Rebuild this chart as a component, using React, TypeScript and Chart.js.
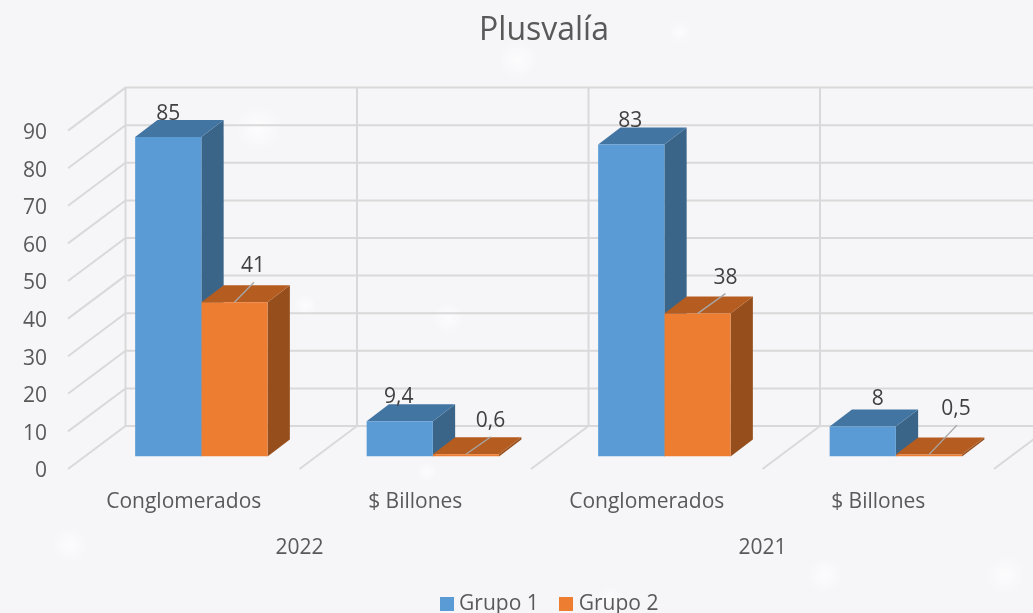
import React, { useEffect, useRef } from "react";
import { Chart, registerables } from "chart.js";

Chart.register(...registerables);

const categories = ["Conglomerados", "$ Billones", "Conglomerados", "$ Billones"];
const years = ["2022", "2021"];
const grupo1 = [85, 9.4, 83, 8];
const grupo2 = [41, 0.6, 38, 0.5];
const seriesNames = ["Grupo 1", "Grupo 2"];

const FONT = "'Open Sans', sans-serif";
const GRID = "#d9d9d9";
const front = ["#5b9bd5", "#ed7d31"];
const topFace = ["#4375a3", "#b55d20"];
const sideFace = ["#3a6589", "#964f1c"];

// 3D projection of the chart (pixel offsets from the front plane of the bars)
const BAR_DX = 22.3;
const BAR_DY = 17;
const WALL_DX = 39.9;
const WALL_DY = 30.5;
const EDGE_DX = 17.6;
const EDGE_DY = 12.5;

// Label offsets from the bar's top centre: [dx, dy, leader end dx, leader end dy]
const labelNudges = [
  [[0, -23], [-1, -24], [-1, -23.4], [15, -27]],
  [[18.5, -36, 19.5, -20], [24.6, -33, 25, -17.5], [28, -36, 28, -20], [27, -46, 28, -29.5]],
];

const swatch = (color: string) => {
  const c = document.createElement("canvas");
  c.width = 14;
  c.height = 14;
  const g = c.getContext("2d")!;
  g.fillStyle = color;
  g.fillRect(0, 0, 14, 14);
  return c;
};

const poly = (ctx: CanvasRenderingContext2D, color: string, pts: number[][]) => {
  ctx.fillStyle = color;
  ctx.beginPath();
  pts.forEach(([x, y], i) => (i ? ctx.lineTo(x, y) : ctx.moveTo(x, y)));
  ctx.closePath();
  ctx.fill();
};

const box3d = {
  id: "box3d",
  afterLayout(chart: any) {
    chart.titleBlock.left += 76.4;
    chart.legend.left += 91.4;
  },
  beforeDatasetsDraw(chart: any) {
    const { ctx } = chart;
    const y = chart.scales.y;
    const x = chart.scales.x;
    const step = x.width / categories.length;
    const y0 = y.getPixelForValue(0);
    ctx.save();
    ctx.strokeStyle = GRID;
    ctx.lineWidth = 2;
    ctx.beginPath();
    y.ticks.forEach((t: any) => {
      const p = y.getPixelForValue(t.value);
      ctx.moveTo(x.left - EDGE_DX, p + EDGE_DY);
      ctx.lineTo(x.left + WALL_DX, p - WALL_DY);
      ctx.lineTo(chart.width + 30, p - WALL_DY);
    });
    const yTop = y.getPixelForValue(y.max) - WALL_DY;
    for (let i = 0; i <= categories.length; i++) {
      const b = x.left + i * step;
      ctx.moveTo(b + WALL_DX, yTop);
      ctx.lineTo(b + WALL_DX, y0 - WALL_DY);
      ctx.moveTo(b + WALL_DX, y0 - WALL_DY);
      ctx.lineTo(b - EDGE_DX, y0 + EDGE_DY);
    }
    ctx.stroke();

    categories.forEach((_, i) => {
      [0, 1].forEach((d) => {
        const el = chart.getDatasetMeta(d).data[i];
        const { x: cx, y: top, base, width } = el.getProps(["x", "y", "base", "width"], true);
        const l = cx - width / 2;
        const r = cx + width / 2;
        poly(ctx, sideFace[d], [[r, top], [r + BAR_DX, top - BAR_DY], [r + BAR_DX, base - BAR_DY], [r, base]]);
        poly(ctx, topFace[d], [[l, top], [l + BAR_DX, top - BAR_DY], [r + BAR_DX, top - BAR_DY], [r, top]]);
      });
    });
    ctx.restore();
  },
  afterDatasetsDraw(chart: any) {
    const { ctx } = chart;
    ctx.save();
    ctx.font = `21px ${FONT}`;
    ctx.textAlign = "center";
    ctx.textBaseline = "middle";
    [grupo1, grupo2].forEach((values, d) => {
      values.forEach((v, i) => {
        const el = chart.getDatasetMeta(d).data[i];
        const { x: cx, y: top } = el.getProps(["x", "y"], true);
        const n = labelNudges[d][i];
        if (n.length > 2) {
          ctx.strokeStyle = "#a6a6a6";
          ctx.lineWidth = 1.4;
          ctx.beginPath();
          ctx.moveTo(cx, top);
          ctx.lineTo(cx + n[2], top + n[3]);
          ctx.stroke();
        }
        ctx.fillStyle = "#404040";
        ctx.fillText(String(v).replace(".", ","), cx + n[0], top + n[1]);
      });
    });
    ctx.restore();
  },
};

const sparkles = [
  [680, 32, 12], [518, 60, 20], [258, 128, 24], [305, 305, 12], [448, 318, 16],
  [427, 472, 10], [70, 545, 18], [825, 575, 18], [1005, 575, 20], [610, 600, 14], [150, 290, 18],
];

export default function App() {
  const ref = useRef<HTMLCanvasElement>(null);
  useEffect(() => {
    const chart = new Chart(ref.current!, {
      type: "bar",
      data: {
        labels: categories,
        datasets: [
          { label: seriesNames[0], data: grupo1, backgroundColor: front[0], pointStyle: swatch(front[0]) },
          { label: seriesNames[1], data: grupo2, backgroundColor: front[1], pointStyle: swatch(front[1]) },
        ] as any,
      },
      options: {
        animation: false,
        responsive: false,
        devicePixelRatio: 1,
        datasets: { bar: { barPercentage: 1, categoryPercentage: 0.572 } },
        layout: { padding: { left: 0, right: 21.4, top: 0, bottom: -11.5 } },
        scales: {
          x: {
            type: "category",
            weight: 0,
            grid: { display: false, drawTicks: false, tickLength: 0 },
            border: { display: false },
            ticks: { color: "#595959", font: { family: FONT, size: 21 }, padding: 32.9, labelOffset: -EDGE_DX, maxRotation: 0, autoSkip: false },
            afterFit(s: any) { s.height = 59.5; },
          },
          x2: {
            type: "category",
            position: "bottom",
            labels: years,
            offset: true,
            weight: 1,
            grid: { display: false, drawTicks: false, tickLength: 0 },
            border: { display: false },
            ticks: { color: "#595959", font: { family: FONT, size: 21 }, padding: 19.4, labelOffset: -EDGE_DX, maxRotation: 0 },
            afterFit(s: any) { s.height = 52; },
          },
          y: {
            min: 0,
            max: 90,
            grid: { display: false, drawTicks: false, tickLength: 0 },
            border: { display: false },
            ticks: { stepSize: 10, color: "#595959", font: { family: FONT, size: 21 }, padding: 38.6, labelOffset: 15 },
            afterFit(s: any) { s.width = 85.6; },
          },
        } as any,
        plugins: {
          title: {
            display: true,
            text: "Plusvalía",
            color: "#595959",
            font: { family: FONT, size: 32, weight: "normal" },
            padding: { top: 12, bottom: 67.7 },
          },
          legend: {
            position: "bottom",
            labels: {
              usePointStyle: true,
              pointStyleWidth: 4,
              padding: 25.5,
              color: "#595959",
              font: { family: FONT, size: 21 },
            },
          },
          tooltip: { enabled: false },
        },
      },
      plugins: [box3d],
    } as any);
    return () => chart.destroy();
  }, []);

  const background = sparkles
    .map(([x, y, r]) => `radial-gradient(circle ${r}px at ${x}px ${y}px, rgba(255,255,255,0.7), rgba(255,255,255,0))`)
    .join(",");

  return (
    <div style={{ position: "fixed", left: 0, top: 0, width: 1033, height: 613, backgroundColor: "#f6f6f9", backgroundImage: background }}>
      <canvas ref={ref} width={1033} height={613} style={{ display: "block" }} />
    </div>
  );
}
